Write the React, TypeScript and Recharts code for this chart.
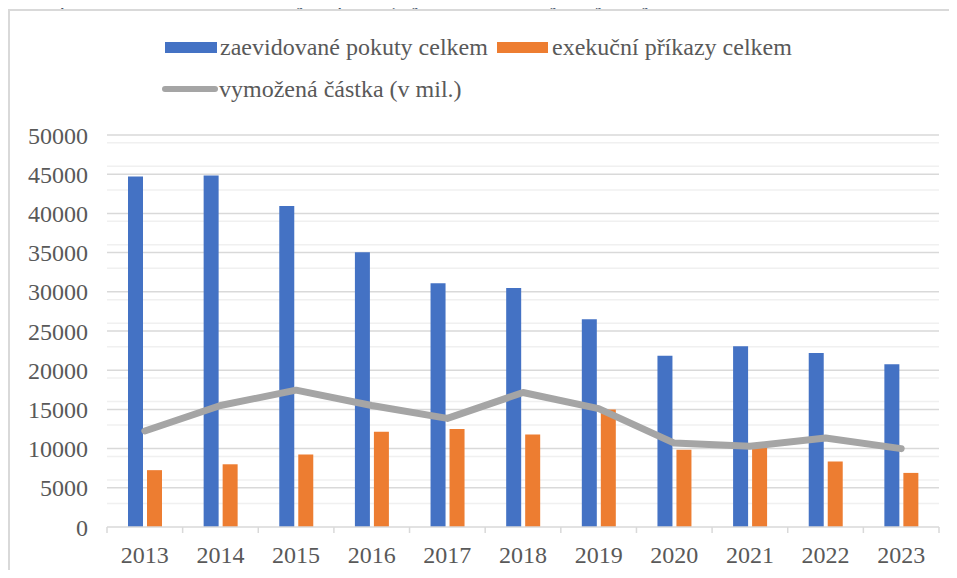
import { ComposedChart, Bar, Line, XAxis, YAxis, CartesianGrid, Legend } from "recharts"

const years = ["2013", "2014", "2015", "2016", "2017", "2018", "2019", "2020", "2021", "2022", "2023"]
const pokuty = [44700, 44850, 40950, 35050, 31100, 30500, 26500, 21850, 23050, 22200, 20750]
const prikazy = [7250, 8000, 9250, 12150, 12500, 11800, 15000, 9850, 10150, 8350, 6900]
const castka = [12250, 15500, 17450, 15500, 13850, 17150, 15100, 10700, 10300, 11350, 10000]
const yTicks = [0, 5000, 10000, 15000, 20000, 25000, 30000, 35000, 40000, 45000, 50000]
const minorTicks = Array.from({ length: 51 }, (_, i) => i * 1000).filter((v) => v % 5000 !== 0)

const data = years.map((year, i) => ({
  year,
  pokuty: pokuty[i],
  prikazy: prikazy[i],
  castka: castka[i],
}))

const FONT = "Liberation Serif, serif"
const TEXT = "#595959"
const HALF_BAND = (939 - 107) / years.length / 2

const XTick = (props: any) => {
  const { x, y, payload, index } = props
  const last = index === years.length - 1
  return (
    <g>
      <line x1={x - HALF_BAND} y1={y} x2={x - HALF_BAND} y2={y + 6} stroke="#d9d9d9" strokeWidth={1.5} />
      {last && <line x1={x + HALF_BAND} y1={y} x2={x + HALF_BAND} y2={y + 6} stroke="#d9d9d9" strokeWidth={1.5} />}
      <text x={x} y={y + 36} textAnchor="middle" fill={TEXT} fontSize={24} fontFamily={FONT}>
        {payload.value}
      </text>
    </g>
  )
}

const legendText = {
  position: "absolute" as const,
  fontSize: 24,
  color: TEXT,
  fontFamily: FONT,
  lineHeight: "24px",
  whiteSpace: "nowrap" as const,
}

const renderLegend = () => (
  <div style={{ position: "relative", width: 957, height: 110, fontFamily: FONT }}>
    <div style={{ position: "absolute", left: 165, top: 42, width: 52, height: 11, background: "#4472C4" }} />
    <div style={{ ...legendText, left: 220, top: 35 }}>zaevidované pokuty celkem</div>
    <div style={{ position: "absolute", left: 497, top: 42, width: 51, height: 11, background: "#ED7D31" }} />
    <div style={{ ...legendText, left: 552, top: 35 }}>exekuční příkazy celkem</div>
    <div style={{ position: "absolute", left: 162, top: 86, width: 56, height: 6, borderRadius: 3, background: "#A5A5A5" }} />
    <div style={{ ...legendText, left: 219, top: 77 }}>vymožená částka (v mil.)</div>
  </div>
)

export default function App() {
  return (
    <div
      style={{
        position: "relative",
        width: 957,
        height: 578,
        margin: -8,
        overflow: "hidden",
        background: "#fff",
        fontFamily: FONT,
      }}
    >
      <div
        style={{
          position: "absolute",
          left: 22,
          top: -15,
          fontSize: 24,
          lineHeight: "24px",
          fontStyle: "italic",
          fontFamily: FONT,
          color: "#44546A",
          whiteSpace: "nowrap",
        }}
      >
        Graf 22.1 Poměr zaevidovaných pokut, vymožené částky a vydaných EP v letech 2013–2023
      </div>
      <div
        style={{
          position: "absolute",
          left: 8,
          top: 9,
          width: 1000,
          height: 1000,
          border: "2px solid #d9d9d9",
        }}
      />
      <div style={{ position: "absolute", left: 0, top: 0 }}>
        <ComposedChart
          width={957}
          height={578}
          data={data}
          margin={{ top: 135, right: 18, bottom: 0, left: 0 }}
          barSize={15}
          barGap={4}
        >
          <CartesianGrid vertical={false} horizontalValues={minorTicks} stroke="#f0f0f0" strokeWidth={1.5} />
          <CartesianGrid vertical={false} horizontalValues={yTicks.slice(1)} stroke="#d9d9d9" strokeWidth={1.5} />
          <XAxis
            dataKey="year"
            height={51}
            axisLine={{ stroke: "#d9d9d9", strokeWidth: 1.5 }}
            tickLine={false}
            tickSize={0}
            tickMargin={0}
            tick={<XTick />}
            interval={0}
          />
          <YAxis
            width={107}
            domain={[0, 50000]}
            ticks={yTicks}
            axisLine={false}
            tickLine={false}
            tickSize={0}
            tickMargin={19}
            tick={{ fill: TEXT, fontSize: 24, fontFamily: FONT }}
          />
          <Legend
            layout="horizontal"
            verticalAlign="middle"
            align="center"
            content={renderLegend}
            wrapperStyle={{ position: "absolute", top: 0, left: 0, width: 957, height: 110 }}
          />
          <Bar dataKey="pokuty" name="zaevidované pokuty celkem" fill="#4472C4" isAnimationActive={false} />
          <Bar dataKey="prikazy" name="exekuční příkazy celkem" fill="#ED7D31" isAnimationActive={false} />
          <Line
            dataKey="castka"
            name="vymožená částka (v mil.)"
            type="linear"
            stroke="#A5A5A5"
            strokeWidth={7}
            strokeLinecap="round"
            strokeLinejoin="round"
            dot={false}
            isAnimationActive={false}
          />
        </ComposedChart>
      </div>
    </div>
  )
}
